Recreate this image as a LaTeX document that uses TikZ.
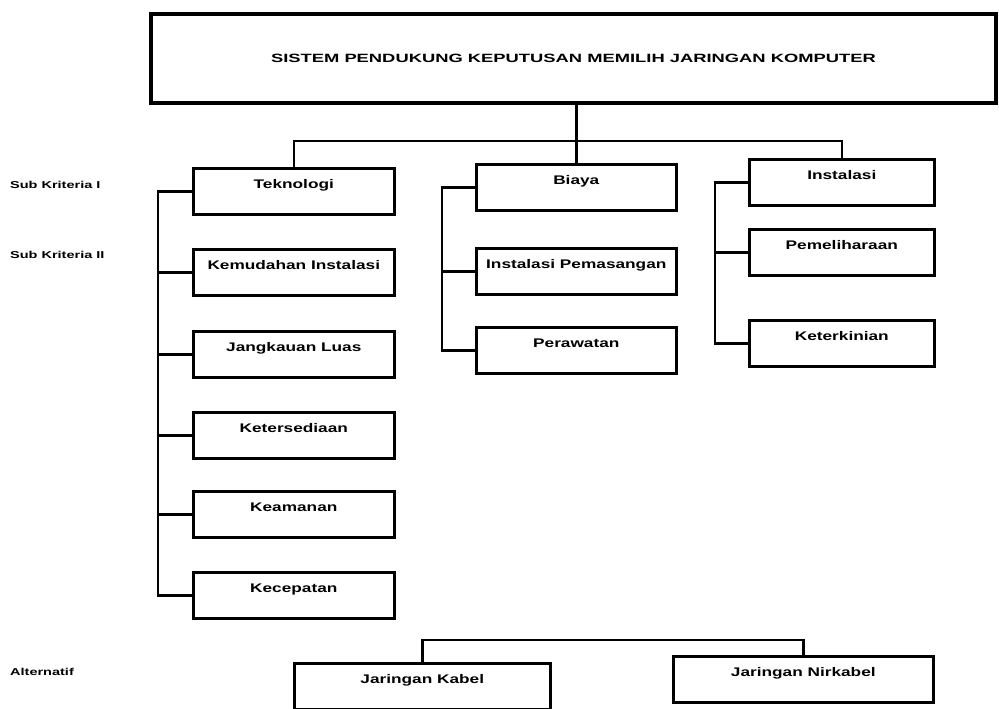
\documentclass[tikz,border=0pt]{standalone}
\usepackage{graphicx}
\usepackage{fontspec}
\setmainfont{Liberation Sans}
\newcommand{\stx}[1]{\scalebox{1.38}[1]{#1}}
\newcommand{\sttl}[1]{\scalebox{1.53}[1]{#1}}
\newcommand{\sside}[1]{\scalebox{1.45}[1]{#1}}
\begin{document}
\begin{tikzpicture}[x=1pt,y=-1pt,
  boxnode/.style={draw=black, line width=2.6pt, rectangle, anchor=north west,
    inner xsep=0pt, inner ysep=0pt, text height=20.5pt, text depth=25.5pt,
    font=\fontsize{12.5pt}{14pt}\selectfont\bfseries, align=center},
  titlebox/.style={draw=black, line width=3.2pt, rectangle, inner sep=0pt,
    minimum width=845pt, minimum height=89pt,
    font=\fontsize{12pt}{14pt}\selectfont\bfseries},
  sidelabel/.style={anchor=base west, inner sep=0pt,
    font=\fontsize{10pt}{12pt}\selectfont\bfseries},
  conn/.style={draw=black, line width=2.6pt}
]
\useasboundingbox (0,0) rectangle (999,709);

% title
\node[titlebox] (title) at (573.5,58.5) {\sttl{SISTEM PENDUKUNG KEPUTUSAN MEMILIH JARINGAN KOMPUTER}};

% side labels
\node[sidelabel] (sk1) at (10,188) {\sside{Sub Kriteria I}};
\node[sidelabel] (sk2) at (10,258) {\sside{Sub Kriteria II}};
\node[sidelabel] (alt) at (10,675) {\sside{Alternatif}};

% column 1
\node[boxnode, minimum width=201pt] (tek) at (192,167) {\stx{Teknologi}};
\node[boxnode, minimum width=201pt] (kem) at (192,248) {\stx{Kemudahan Instalasi}};
\node[boxnode, minimum width=201pt] (jan) at (192,330) {\stx{Jangkauan Luas}};
\node[boxnode, minimum width=201pt] (ket) at (192,411) {\stx{Ketersediaan}};
\node[boxnode, minimum width=201pt] (kea) at (192,490) {\stx{Keamanan}};
\node[boxnode, minimum width=201pt] (kec) at (192,571) {\stx{Kecepatan}};

% column 2
\node[boxnode, minimum width=200pt] (bia) at (475,163) {\stx{Biaya}};
\node[boxnode, minimum width=200pt] (ipm) at (475,247) {\stx{Instalasi Pemasangan}};
\node[boxnode, minimum width=200pt] (per) at (475,326) {\stx{Perawatan}};

% column 3
\node[boxnode, minimum width=185pt] (ins) at (748,158) {\stx{Instalasi}};
\node[boxnode, minimum width=185pt] (pem) at (748,228) {\stx{Pemeliharaan}};
\node[boxnode, minimum width=185pt] (ktk) at (748,319) {\stx{Keterkinian}};

% alternatives
\node[boxnode, minimum width=256pt] (kab) at (293,662) {\stx{Jaringan Kabel}};
\node[boxnode, minimum width=260pt] (nir) at (672,655) {\stx{Jaringan Nirkabel}};

% connector helpers
\coordinate (bar) at (0,141);
\coordinate (b1) at (158,0);
\coordinate (b2) at (442,0);
\coordinate (b3) at (715,0);
\coordinate (abar) at (0,640);

% top tree
\draw[conn] (title.south -| bia.north) -- (bia.north);
\draw[conn] (tek.north) |- (ins.north |- bar) -- (ins.north);

% column 1 bracket
\draw[conn] (tek.west) -- (tek.west -| b1) -- (kec.west -| b1) -- (kec.west);
\foreach \n in {kem,jan,ket,kea} \draw[conn] (\n.west) -- (\n.west -| b1);

% column 2 bracket
\draw[conn] (bia.west) -- (bia.west -| b2) -- (per.west -| b2) -- (per.west);
\draw[conn] (ipm.west) -- (ipm.west -| b2);

% column 3 bracket
\draw[conn] (ins.west) -- (ins.west -| b3) -- (ktk.west -| b3) -- (ktk.west);
\draw[conn] (pem.west) -- (pem.west -| b3);

% alternatives
\draw[conn] (kab.north) |- (nir.north |- abar) -- (nir.north);
\end{tikzpicture}
\end{document}
